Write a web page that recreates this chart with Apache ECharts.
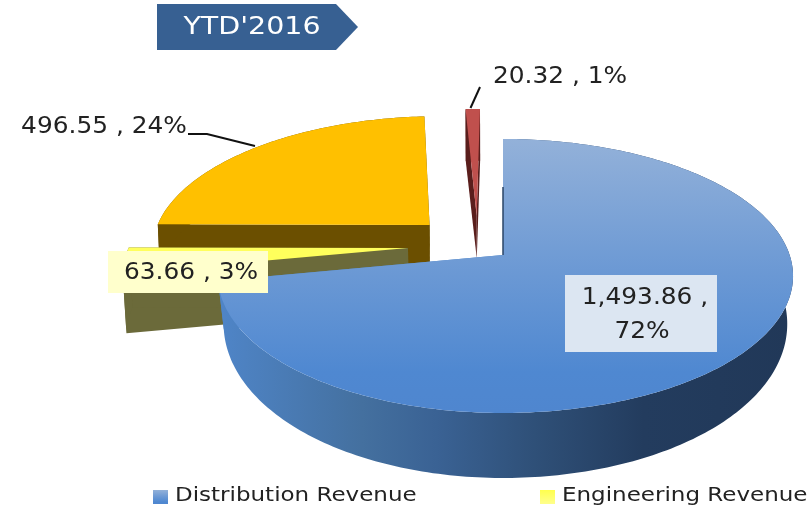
<!DOCTYPE html>
<html><head><meta charset="utf-8">
<style>html,body{margin:0;padding:0;background:#fff}#c{width:811px;height:508px}</style>
<script src="https://cdn.jsdelivr.net/npm/echarts@6/dist/echarts.min.js"></script>
</head><body><div id="c"></div>
<script>
const categories = ['Distribution Revenue','Engineering Revenue','Other Revenue A','Other Revenue B'];
const values = [1493.86, 63.66, 496.55, 20.32];
const legendItems = ['Distribution Revenue','Engineering Revenue'];
const labelValues = ['1,493.86 ,\n72%','63.66 , 3%','496.55 , 24%','20.32 , 1%'];
const titleText = "YTD'2016";

// projection of the tilted disc
const CX=503, CY=255, RX=281.7, RY=133.8, K=0.153;
const total = values.reduce((a,b)=>a+b,0);
// per-slice pose: explode offset in disc units, wall depth = a + b*v, wall inward lean, right-side stretch
const pose = [
  {ou:0,ov:0,a:45,b:20,lean:0.98,xr:1.0175},
  {ou:-0.34,ov:-0.052,a:60,b:0,lean:0.99},
  {ou:-0.27,ov:-0.2325,a:39,b:0,lean:0.995},
  {ou:-0.098,ov:-0.31,a:40,b:-9,lean:0.995}
];
const faceBlue={type:'linear',x:0,y:0,x2:0,y2:1,colorStops:[{offset:0,color:'#93B1D9'},{offset:.5,color:'#6A98D4'},{offset:.85,color:'#4F88D1'},{offset:1,color:'#4F86CF'}]};
const skins = [
 {face:faceBlue,
  wall:{type:'linear',x:0,y:0,x2:1,y2:0,colorStops:[{offset:0,color:'#4F85C8'},{offset:.25,color:'#44709F'},{offset:.38,color:'#3A6294'},{offset:.55,color:'#2F5078'},{offset:.74,color:'#233C5E'},{offset:1,color:'#213858'}]},
  legend:faceBlue},
 {face:'#FFFF5C',wall:'#6B6A3A',legend:{type:'linear',x:0,y:0,x2:0,y2:1,colorStops:[{offset:0,color:'#FFFF4D'},{offset:1,color:'#FFFF8C'}]}},
 {face:'#FFC000',wall:'#6B4F00',legend:'#FFC000'},
 {face:'#C0504D',wall:'#5A1E1C',legend:'#C0504D'}
];
const FONT='"DejaVu Sans"', TEXT='#222';
const labelBoxes=[{x:565,y:275,w:152,h:77,bg:'#DCE6F2'},{x:108,y:251,w:160,h:42,bg:'#FFFFCC'},null,null];
const labelLines=[[[645,298],[642,332]],[[191,273]],[[104,127]],[[560,77]]];
const leaders=[null,null,[[188,134],[207,134],[255,146]],[[480,87],[470.5,108]]];
const legendPos=[{sx:153,tx:175},{sx:540,tx:562}];

function proj(u,v,p,depth){
  let U=u+p.ou;const V=v+p.ov,s=1/(1-K*V);
  if(p.xr&&U>0)U*=p.xr;
  let x=CX+RX*U*s,y=CY+RY*V*s;
  if(depth){y+=p.a+p.b*V;x=CX+(x-CX)*p.lean;}
  return [x,y];
}
function rim(a0,a1,p,depth){
  const n=Math.max(2,Math.ceil(a1-a0)),pts=[];
  for(let i=0;i<=n;i++){const t=(a0+(a1-a0)*i/n)*Math.PI/180;pts.push(proj(Math.sin(t),-Math.cos(t),p,depth));}
  return pts;
}
function sliceItem(idx){
  return function(){
    let start=0;for(let i=0;i<idx;i++)start+=values[i];
    const a0=start/total*360,a1=(start+values[idx])/total*360,p=pose[idx],sk=skins[idx];
    const top=rim(a0,a1,p,false),bot=rim(a0,a1,p,true);
    const A=proj(0,0,p,false),B=proj(0,0,p,true);
    const solid=idx===0?'#4F85C8':sk.wall;
    const children=[
      {type:'polygon',shape:{points:[A,top[0],bot[0],B]},style:{fill:idx===0?'#213858':solid}},
      {type:'polygon',shape:{points:[A,top[top.length-1],bot[bot.length-1],B]},style:{fill:solid}},
      {type:'polygon',shape:{points:top.concat(bot.slice().reverse())},style:{fill:sk.wall}},
      {type:'polygon',shape:{points:[A].concat(top)},style:{fill:sk.face}}
    ];
    if(idx===0)children.push({type:'polyline',shape:{points:[proj(0,-0.55,p,false),proj(0,0,p,false)]},style:{stroke:'#2A4466',lineWidth:1.5,fill:null}});
    return {type:'group',children};
  };
}
function labelItem(){
  const ch=[];
  labelValues.forEach((t,i)=>{
    if(leaders[i]) ch.push({type:'polyline',shape:{points:leaders[i]},style:{stroke:'#111',lineWidth:2,fill:null}});
    const b=labelBoxes[i];
    if(b) ch.push({type:'rect',shape:{x:b.x,y:b.y,width:b.w,height:b.h},style:{fill:b.bg}});
    t.split('\n').forEach((line,j)=>{
      const q=labelLines[i][j];
      ch.push({type:'text',x:q[0],y:q[1],scaleX:1.08,style:{text:line,fill:TEXT,font:'23px '+FONT,align:'center',verticalAlign:'middle'}});
    });
  });
  return {type:'group',children:ch};
}
const order=[3,2,1,0];
const series=order.map((i,z)=>({
  type:'custom',name:categories[i],coordinateSystem:'none',silent:true,z:2+z,
  itemStyle:{color:skins[i].legend},
  data:[{value:values[i],name:categories[i]}],
  renderItem:sliceItem(i)
}));
series.push({type:'custom',name:'labels',coordinateSystem:'none',silent:true,z:10,data:[labelValues.length],renderItem:labelItem});

const legendGraphics=[];
legendItems.forEach((name,i)=>{
  const sk=skins[categories.indexOf(name)],q=legendPos[i];
  legendGraphics.push({type:'rect',z:20,shape:{x:q.sx,y:490,width:15,height:14},style:{fill:sk.legend}});
  legendGraphics.push({type:'text',z:20,x:q.tx,y:496,scaleX:1.15,style:{text:name,fill:TEXT,font:'20px '+FONT,align:'left',verticalAlign:'middle'}});
});

const chart=echarts.init(document.getElementById('c'),null,{renderer:'canvas'});
chart.setOption({
  animation:false,
  backgroundColor:'#fff',
  graphic:[
    {type:'polygon',z:20,shape:{points:[[157,4],[336,4],[358,27],[336,50],[157,50]]},style:{fill:'#376092'}},
    {type:'text',z:21,x:252,y:27,scaleX:1.14,style:{text:titleText,fill:'#fff',font:'25px '+FONT,align:'center',verticalAlign:'middle'}}
  ].concat(legendGraphics),
  series
});
</script></body></html>
